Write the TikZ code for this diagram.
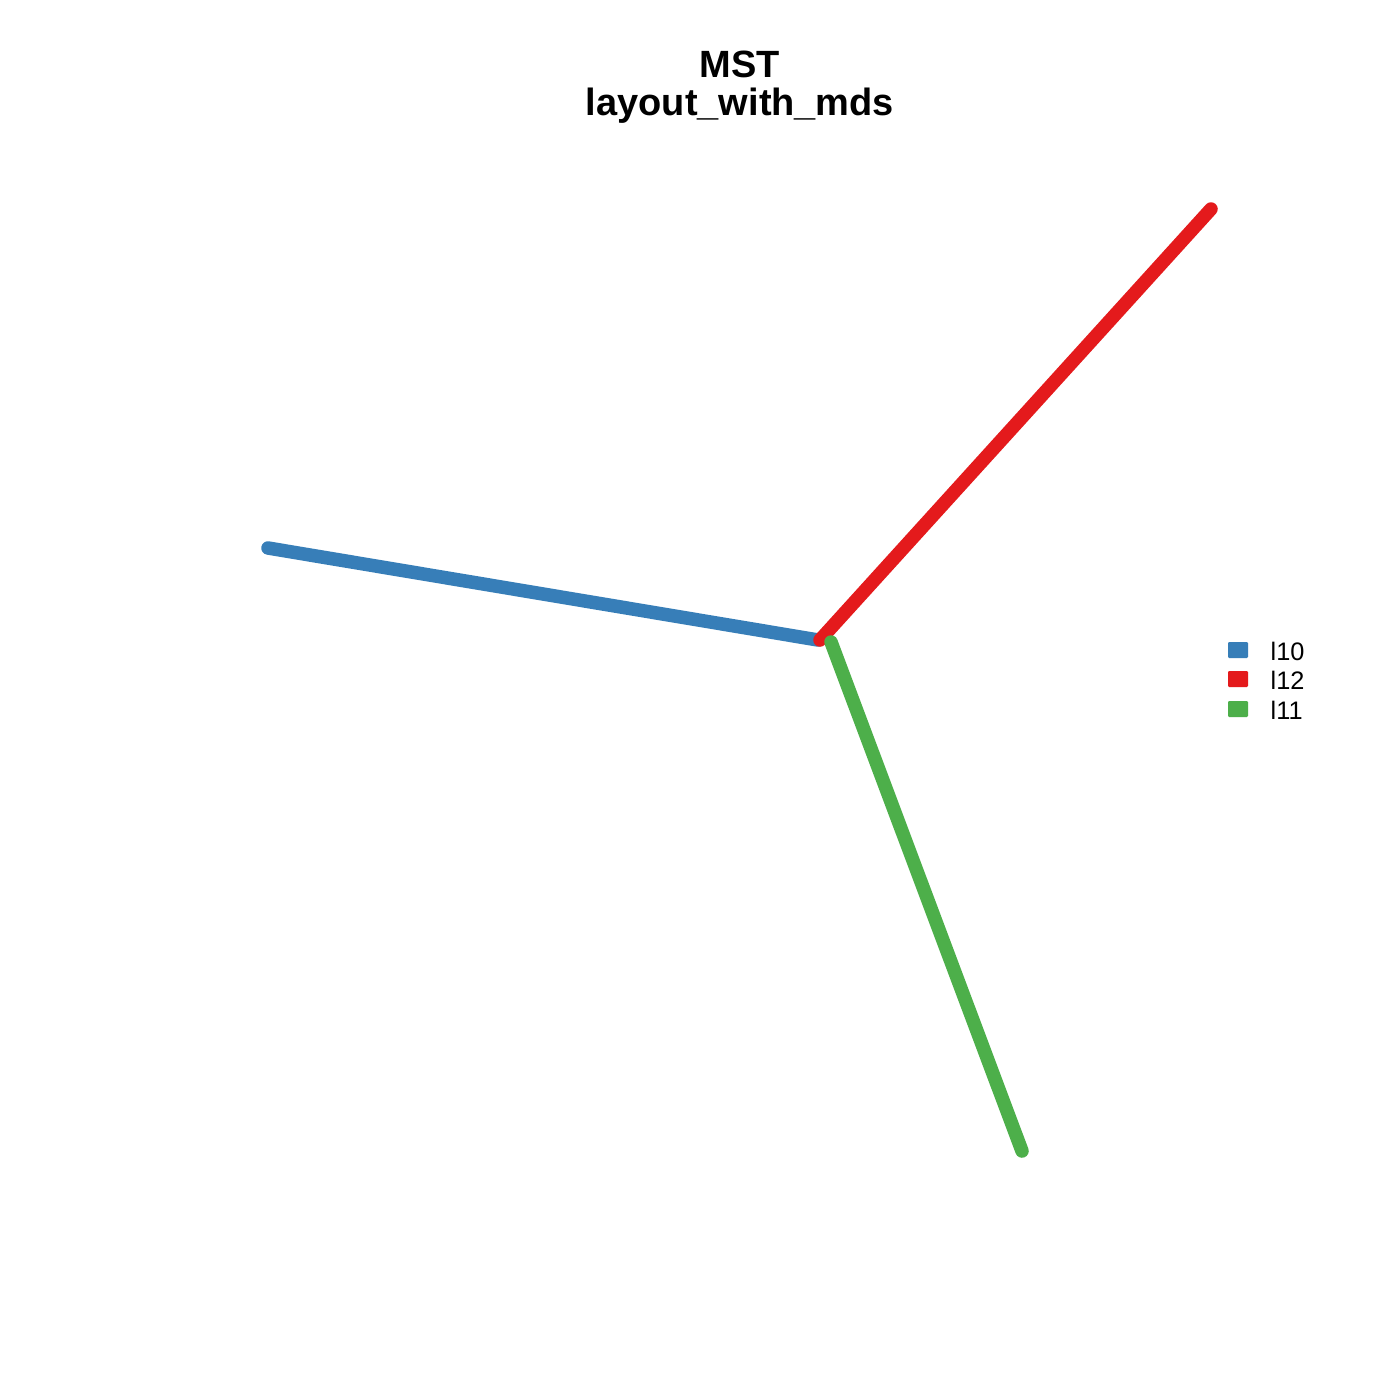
\documentclass[tikz,border=0pt]{standalone}
\usepackage{fontspec}
\setmainfont{Liberation Sans}
\definecolor{eblue}{HTML}{377EB8}
\definecolor{ered}{HTML}{E41A1C}
\definecolor{egreen}{HTML}{4DAF4A}
\begin{document}
\begin{tikzpicture}[x=0.01cm,y=-0.01cm,
  edge/.style={line width=0.135cm,line cap=round},
  vtx/.style={inner sep=0pt,minimum size=0pt},
  legbox/.style={minimum width=0.2cm,minimum height=0.16cm,inner sep=0pt,rounded corners=0.3pt},
  legtext/.style={anchor=west,inner sep=0pt,font=\fontsize{7.2}{8}\selectfont},
  titletext/.style={font=\fontsize{10.8}{12}\selectfont\bfseries,inner sep=0pt}]
\useasboundingbox[fill=white] (0,0) rectangle (1400,1400);
\node[titletext] (t1) at (740,64) {MST};
\node[titletext,anchor=base] (t2) at (740,116) {layout\_with\_mds};
\coordinate (cb) at (818,640);
\coordinate (cr) at (820,640);
\coordinate (cg) at (831,642);
\node[vtx] (b) at (268,548) {};
\node[vtx] (r) at (1211,209) {};
\node[vtx] (g) at (1022,1151) {};
\draw[edge,eblue] (b.center) -- (cb);
\draw[edge,ered] (r.center) -- (cr);
\draw[edge,egreen] (cg) -- (g.center);
\node[legbox,fill=eblue] (lb) at (1238,650) {};
\node[legbox,fill=ered] (lr) at (1238,679) {};
\node[legbox,fill=egreen] (lg) at (1238,709) {};
\node[legtext] (tb) at (1270,651) {l10};
\node[legtext] (tr) at (1270,680) {l12};
\node[legtext] (tg) at (1270,710) {l11};
\end{tikzpicture}
\end{document}
